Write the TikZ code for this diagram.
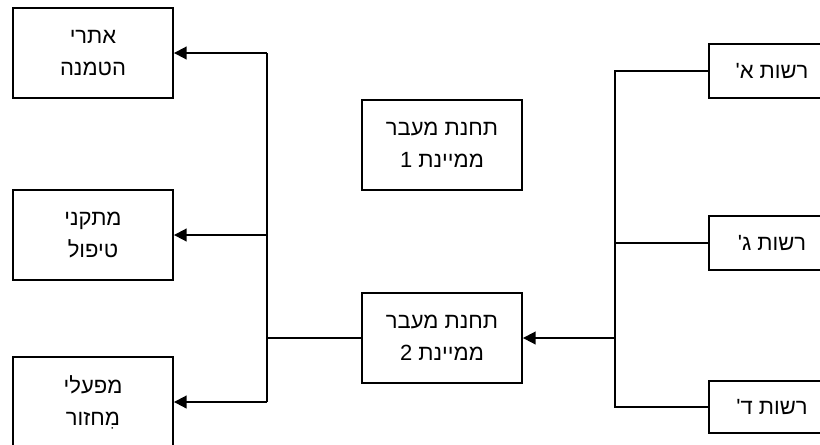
\documentclass[tikz,border=0pt]{standalone}
\usepackage{fontspec}
\usetikzlibrary{arrows.meta}
\TeXXeTstate=1
\newfontfamily\hebfont[Script=Hebrew]{Liberation Sans}
\newcommand{\rl}[1]{\beginR #1\endR}
\tikzset{
  box/.style={draw, line width=1.4pt, inner sep=0pt, align=center,
    font=\hebfont\fontsize{16.5}{24}\selectfont},
  bigbox/.style={box, minimum width=120pt, minimum height=67.5pt},
  smallbox/.style={box, minimum width=95pt, minimum height=40pt},
  line/.style={line width=1.4pt},
  arrow/.style={line, -{Triangle[length=9.5pt, width=9.5pt]}}
}
\begin{document}
\begin{tikzpicture}[x=0.75pt, y=-0.75pt]
  \useasboundingbox (0,0) rectangle (820,444);
  % destinations
  \node[bigbox] (L1) at (93,53) {\rl{אתרי}\\\rl{הטמנה}};
  \node[bigbox] (L2) at (93,235) {\rl{מתקני}\\\rl{טיפול}};
  \node[bigbox] (L3) at (93,402) {\rl{מפעלי}\\\rl{מִחזור}};
  % transfer stations
  \node[bigbox] (C1) at (442,145) {\rl{תחנת מעבר}\\\rl{ממיינת 1}};
  \node[bigbox] (C2) at (442,338) {\rl{תחנת מעבר}\\\rl{ממיינת 2}};
  % authorities
  \node[smallbox, minimum height=40.5pt] (R1) at (772,71) {\rl{רשות א'}};
  \node[smallbox] (R2) at (772,243) {\rl{רשות ג'}};
  \node[smallbox, minimum height=39pt] (R3) at (772,407) {\rl{רשות ד'}};
  % bus lines
  \coordinate (rbus) at (615,0);
  \coordinate (lbus) at (267,0);
  % right side: authorities to station 2
  \draw[line] (R1.west) -- (R1.west -| rbus) -- (R3.west -| rbus) -- (R3.west);
  \draw[line] (R2.west) -- (R2.west -| rbus);
  \draw[arrow] (C2.east -| rbus) -- (C2.east);
  % left side: station 2 to destinations
  \draw[line] (C2.west) -- (C2.west -| lbus);
  \draw[line] (L1.east -| lbus) -- (L3.east -| lbus);
  \draw[arrow] (L1.east -| lbus) -- (L1.east);
  \draw[arrow] (L2.east -| lbus) -- (L2.east);
  \draw[arrow] (L3.east -| lbus) -- (L3.east);
\end{tikzpicture}
\end{document}
